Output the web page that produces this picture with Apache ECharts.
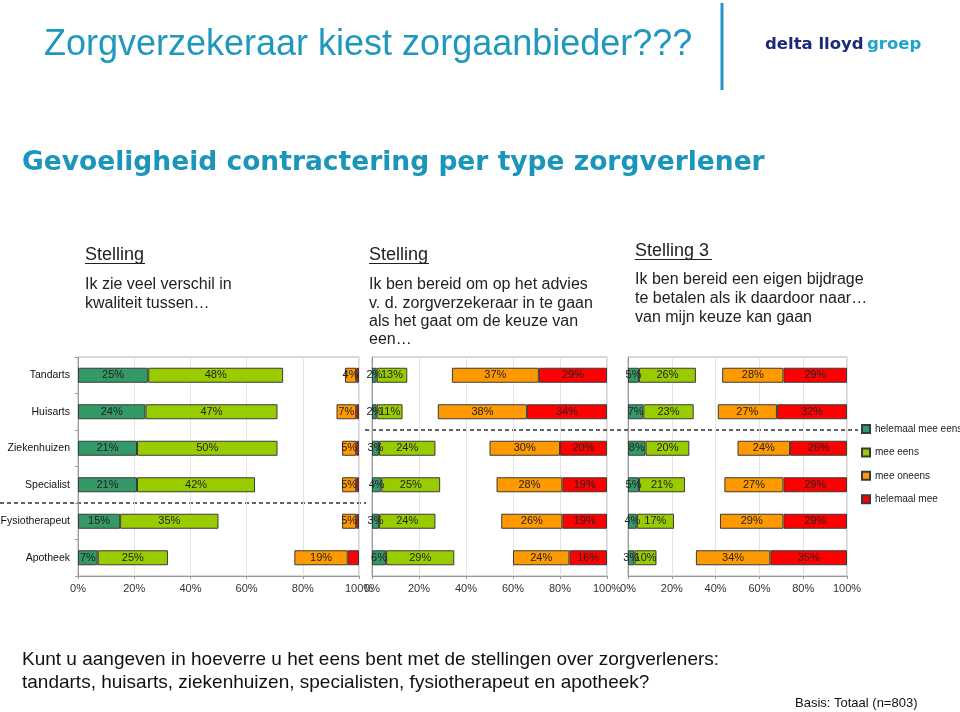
<!DOCTYPE html>
<html>
<head>
<meta charset="utf-8">
<script src="https://cdn.jsdelivr.net/npm/echarts@6/dist/echarts.min.js"></script>
<style>html,body{margin:0;padding:0;background:#fff}#c{width:960px;height:712px}</style>
</head>
<body>
<div id="c"></div>
<script>
// ---- data ----
const categories = ['Tandarts', 'Huisarts', 'Ziekenhuizen', 'Specialist', 'Fysiotherapeut', 'Apotheek'];
const seriesNames = ['helemaal mee eens', 'mee eens', 'mee oneens', 'helemaal mee'];
const xTicks = [0, 20, 40, 60, 80, 100];

// Stelling 1
const s1HelemaalEens = [25, 24, 21, 21, 15, 7];
const s1Eens = [48, 47, 50, 42, 35, 25];
const s1Oneens = [4, 7, 5, 5, 5, 19];
const s1HelemaalOneens = [1, 1, 1, 1, 1, 4];
// Stelling 2
const s2HelemaalEens = [2, 2, 3, 4, 3, 6];
const s2Eens = [13, 11, 24, 25, 24, 29];
const s2Oneens = [37, 38, 30, 28, 26, 24];
const s2HelemaalOneens = [29, 34, 20, 19, 19, 16];
// Stelling 3
const s3HelemaalEens = [5, 7, 8, 5, 4, 3];
const s3Eens = [26, 23, 20, 21, 17, 10];
const s3Oneens = [28, 27, 24, 27, 29, 34];
const s3HelemaalOneens = [29, 32, 26, 29, 29, 35];

const panels = [
  [s1HelemaalEens, s1Eens, s1Oneens, s1HelemaalOneens],
  [s2HelemaalEens, s2Eens, s2Oneens, s2HelemaalOneens],
  [s3HelemaalEens, s3Eens, s3Oneens, s3HelemaalOneens]
];
// labels hidden for the red segments of panel 1
const showLabel = [[true, true, true, false], [true, true, true, true], [true, true, true, true]];

// ---- styling / layout ----
const colors = ['#339966', '#99CC00', '#FF9900', '#FF0000'];
const FONT = '"Liberation Sans", Arial, sans-serif';
const GRID_TOP = 357, GRID_H = 219;
const gridLefts = [78, 372, 628];
const gridWidths = [281, 235, 219];
const rowH = GRID_H / categories.length;

const grids = [], xAxes = [], yAxes = [], series = [];
panels.forEach((p, gi) => {
  grids.push({left: gridLefts[gi], top: GRID_TOP, width: gridWidths[gi], height: GRID_H,
    outerBoundsMode: 'none', containLabel: false,
    show: true, borderColor: '#b0b0b0', borderWidth: 1, backgroundColor: 'transparent'});
  xAxes.push({type: 'value', gridIndex: gi, min: xTicks[0], max: xTicks[xTicks.length - 1],
    interval: xTicks[1] - xTicks[0],
    axisLine: {show: true, lineStyle: {color: '#999'}},
    axisTick: {show: true, length: 3, lineStyle: {color: '#999'}},
    splitLine: {show: true, lineStyle: {color: '#e4e4e4'}},
    axisLabel: {formatter: '{value}%', fontSize: 11, color: '#333', fontFamily: FONT, margin: 7}});
  yAxes.push({type: 'category', gridIndex: gi, data: categories, inverse: true,
    axisLine: {show: true, lineStyle: {color: '#999'}},
    axisTick: {show: gi === 0, length: 3, lineStyle: {color: '#999'}},
    axisLabel: {show: gi === 0, fontSize: 10.5, color: '#111', fontFamily: FONT, margin: 8}});
  const [he, e, o, ho] = p;
  const spacer = categories.map((_, i) => 100 - he[i] - e[i] - o[i] - ho[i]);
  const order = [[he, 0], [e, 1], [spacer, -1], [o, 2], [ho, 3]];
  order.forEach(([arr, k]) => {
    const isSpacer = k < 0;
    series.push({
      type: 'bar', name: isSpacer ? 'spacer' : seriesNames[k], stack: 'p' + gi,
      xAxisIndex: gi, yAxisIndex: gi, data: arr, barWidth: 15,
      silent: isSpacer,
      itemStyle: isSpacer ? {color: 'rgba(0,0,0,0)', borderWidth: 0}
        : {color: colors[k], borderColor: '#3a3a3a', borderWidth: 1},
      label: {show: !isSpacer && showLabel[gi][k], position: 'inside', formatter: '{c}%',
        fontSize: 11, color: '#222', fontFamily: FONT},
      emphasis: {disabled: true}
    });
  });
});

const boundaryY = k => GRID_TOP + k * rowH;

const txt = (x, y, text, font, fill, extra) => ({type: 'text', x, y,
  style: Object.assign({text, font, fill, align: 'left', verticalAlign: 'middle'}, extra || {})});
// multi-line block: y is the centre of the first line
const block = (x, y, text, font, fill, lh) => ({type: 'text', x, y: y - lh / 2,
  style: {text, font, fill, align: 'left', verticalAlign: 'top', lineHeight: lh}});
const line = (x1, y1, x2, y2, stroke, w, dash) => ({type: 'line',
  shape: {x1, y1, x2, y2}, style: {stroke, lineWidth: w, lineDash: dash || null}});

const teal = '#1f98bd';
const bodyFont = '16px ' + FONT;
const headFont = '18px ' + FONT;
const graphic = [
  txt(44, 45, 'Zorgverzekeraar kiest zorgaanbieder???', '36px ' + FONT, teal),
  line(722, 3, 722, 90, '#2196c4', 3),
  {type: 'text', x: 765, y: 45, style: {text: '{a|delta lloyd} {b|groep}', align: 'left', verticalAlign: 'middle',
    rich: {a: {fill: '#1c2b78', font: 'bold 16.5px "DejaVu Sans", sans-serif'},
           b: {fill: '#21a3cb', font: 'bold 16.5px "DejaVu Sans", sans-serif'}}}},
  txt(22, 163, 'Gevoeligheid contractering per type zorgverlener', 'bold 26.5px "DejaVu Sans", sans-serif', '#1b96ba'),

  txt(85, 255, 'Stelling', headFont, '#222'),
  line(85, 263.5, 145, 263.5, '#222', 1),
  block(85, 285, 'Ik zie veel verschil in\nkwaliteit tussen…', bodyFont, '#222', 18.5),

  txt(369, 255, 'Stelling', headFont, '#222'),
  line(369, 263.5, 429, 263.5, '#222', 1),
  block(369, 285, 'Ik ben bereid om op het advies\nv. d. zorgverzekeraar in te gaan\nals het gaat om de keuze van\neen…', bodyFont, '#222', 18.2),

  txt(635, 251, 'Stelling 3', headFont, '#222'),
  line(635, 259.5, 712, 259.5, '#222', 1),
  block(635, 280, 'Ik ben bereid een eigen bijdrage\nte betalen als ik daardoor naar…\nvan mijn keuze kan gaan', bodyFont, '#222', 19),

  line(0, boundaryY(4), gridLefts[1] - 6, boundaryY(4), '#333', 1.5, [4, 3]),
  line(gridLefts[1] - 7, boundaryY(2), 858, boundaryY(2), '#333', 1.5, [4, 3]),

  block(22, 660, 'Kunt u aangeven in hoeverre u het eens bent met de stellingen over zorgverleners:\ntandarts, huisarts, ziekenhuizen, specialisten, fysiotherapeut en apotheek?', '19px ' + FONT, '#111', 23),
  txt(795, 703, 'Basis: Totaal (n=803)', '13px ' + FONT, '#111')
];

const chart = echarts.init(document.getElementById('c'), null, {renderer: 'canvas'});
chart.setOption({
  animation: false,
  backgroundColor: '#fff',
  grid: grids, xAxis: xAxes, yAxis: yAxes, series,
  legend: {data: seriesNames, orient: 'vertical', left: 861, top: 424, itemWidth: 8, itemHeight: 8,
    itemGap: 13.4, icon: 'rect', selectedMode: false, padding: 0,
    textStyle: {fontSize: 10, color: '#222', fontFamily: FONT}},
  graphic
});
</script>
</body>
</html>
